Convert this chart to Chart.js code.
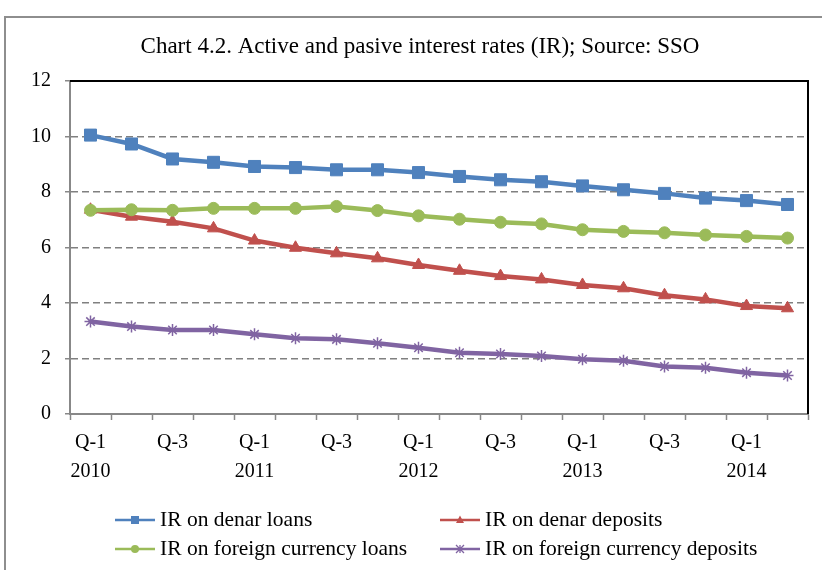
<!DOCTYPE html>
<html>
<head>
<meta charset="utf-8">
<script src="https://cdn.jsdelivr.net/npm/chart.js@4.4.1/dist/chart.umd.min.js"></script>
<style>
    html, body { margin: 0; padding: 0; background: #fff; overflow: hidden; }
    #wrap { position: relative; width: 822px; height: 570px; }
    #frame { position: absolute; left: 4px; top: 16px; width: 900px; height: 700px; border: 2px solid #8e8e8e; box-sizing: border-box; }
    canvas { position: absolute; left: 0; top: 0; }
</style>
</head>
<body>
<div id="wrap">
    <div id="frame"></div>
    <canvas id="rateChart" width="822" height="570"></canvas>
</div>
<script>
// Quarters 2010 Q1 .. 2014 Q2
const quarters = [
    '2010 Q1', '2010 Q2', '2010 Q3', '2010 Q4',
    '2011 Q1', '2011 Q2', '2011 Q3', '2011 Q4',
    '2012 Q1', '2012 Q2', '2012 Q3', '2012 Q4',
    '2013 Q1', '2013 Q2', '2013 Q3', '2013 Q4',
    '2014 Q1', '2014 Q2'
];
const tickLabels = [
    ['Q-1', '2010'], '', 'Q-3', '',
    ['Q-1', '2011'], '', 'Q-3', '',
    ['Q-1', '2012'], '', 'Q-3', '',
    ['Q-1', '2013'], '', 'Q-3', '',
    ['Q-1', '2014'], ''
];
const yTicks = [0, 2, 4, 6, 8, 10, 12];

const denarLoans = [10.05, 9.73, 9.19, 9.07, 8.92, 8.88, 8.80, 8.80, 8.70, 8.56, 8.44, 8.37, 8.22, 8.08, 7.95, 7.78, 7.69, 7.55];
const denarDeposits = [7.36, 7.11, 6.93, 6.69, 6.25, 5.99, 5.79, 5.61, 5.37, 5.16, 4.97, 4.85, 4.65, 4.53, 4.28, 4.13, 3.89, 3.81];
const fxLoans = [7.34, 7.36, 7.34, 7.41, 7.41, 7.41, 7.48, 7.33, 7.14, 7.02, 6.91, 6.85, 6.64, 6.58, 6.53, 6.45, 6.40, 6.34];
const fxDeposits = [3.33, 3.15, 3.03, 3.03, 2.87, 2.73, 2.69, 2.55, 2.39, 2.21, 2.16, 2.09, 1.97, 1.92, 1.71, 1.67, 1.49, 1.39];

const titleText = 'Chart 4.2. Active and pasive interest rates (IR); Source: SSO';
const FONT = '"Liberation Serif", "Times New Roman", serif';

// marker helper for the legend
function drawMarker(ctx, style, x, y, r, color) {
    ctx.save();
    ctx.fillStyle = color;
    ctx.strokeStyle = color;
    ctx.lineWidth = 1.3;
    ctx.beginPath();
    if (style === 'rect') {
        ctx.rect(x - r, y - r, 2 * r, 2 * r);
        ctx.fill();
    } else if (style === 'circle') {
        ctx.arc(x, y, r, 0, Math.PI * 2);
        ctx.fill();
    } else if (style === 'triangle') {
        ctx.moveTo(x, y - r * 1.1);
        ctx.lineTo(x + r, y + r * 0.75);
        ctx.lineTo(x - r, y + r * 0.75);
        ctx.closePath();
        ctx.fill();
    } else {
        ctx.moveTo(x - r, y - r); ctx.lineTo(x + r, y + r);
        ctx.moveTo(x - r, y + r); ctx.lineTo(x + r, y - r);
        ctx.moveTo(x, y - r); ctx.lineTo(x, y + r);
        ctx.stroke();
    }
    ctx.restore();
}

const decorPlugin = {
    id: 'decor',
    beforeDatasetsDraw(chart) {
        const { ctx, chartArea: a } = chart;
        ctx.save();
        ctx.strokeStyle = '#000';
        ctx.lineWidth = 2;
        ctx.beginPath();
        ctx.moveTo(a.left, a.top);
        ctx.lineTo(a.right, a.top);
        ctx.lineTo(a.right, a.bottom);
        ctx.stroke();
        ctx.restore();
    },
    afterDraw(chart) {
        const ctx = chart.ctx;
        ctx.save();
        // title
        ctx.fillStyle = '#000';
        ctx.font = '23px ' + FONT;
        ctx.textAlign = 'center';
        ctx.textBaseline = 'middle';
        ctx.fillText(titleText, 420, 47);

        // legend, 2 x 2
        const pos = [[115, 520], [440, 520], [115, 549], [440, 549]];
        ctx.font = '21.5px ' + FONT;
        ctx.textAlign = 'left';
        chart.data.datasets.forEach((ds, i) => {
            const [x, y] = pos[i];
            ctx.strokeStyle = ds.borderColor;
            ctx.lineWidth = 2.5;
            ctx.beginPath();
            ctx.moveTo(x, y);
            ctx.lineTo(x + 40, y);
            ctx.stroke();
            drawMarker(ctx, ds.pointStyle, x + 20, y, 4, ds.borderColor);
            ctx.fillStyle = '#000';
            ctx.fillText(ds.label, x + 45, y);
        });
        ctx.restore();
    }
};

const ctx = document.getElementById('rateChart');
new Chart(ctx, {
    type: 'line',
    data: {
        labels: quarters,
        datasets: [
            {
                label: 'IR on denar loans',
                data: denarLoans,
                borderColor: '#4F81BD',
                backgroundColor: '#4F81BD',
                pointStyle: 'rect',
                pointRadius: 8.5,
                order: 3
            },
            {
                label: 'IR on denar deposits',
                data: denarDeposits,
                borderColor: '#C0504D',
                backgroundColor: '#C0504D',
                pointStyle: 'triangle',
                pointRadius: 7,
                order: 2
            },
            {
                label: 'IR on foreign currency loans',
                data: fxLoans,
                borderColor: '#9BBB59',
                backgroundColor: '#9BBB59',
                pointStyle: 'circle',
                pointRadius: 6,
                order: 1
            },
            {
                label: 'IR on foreign currency deposits',
                data: fxDeposits,
                borderColor: '#8064A2',
                backgroundColor: '#8064A2',
                pointStyle: 'star',
                pointRadius: 6,
                pointBorderWidth: 1.5,
                order: 0
            }
        ]
    },
    options: {
        responsive: false,
        animation: false,
        layout: { padding: { top: 81, right: 14, left: 0, bottom: 0 } },
        elements: {
            line: { borderWidth: 4.5, tension: 0 },
            point: { borderWidth: 1 }
        },
        plugins: {
            legend: { display: false },
            title: { display: false },
            tooltip: { enabled: false }
        },
        scales: {
            x: {
                offset: true,
                grid: {
                    offset: true,
                    drawOnChartArea: false,
                    tickLength: 6,
                    tickColor: '#888',
                    tickWidth: 1.5
                },
                border: { color: '#888', width: 2 },
                ticks: {
                    autoSkip: false,
                    maxRotation: 0,
                    minRotation: 0,
                    padding: 8,
                    color: '#000',
                    font: { family: FONT, size: 20, lineHeight: 1.45 },
                    callback: (val, idx) => tickLabels[idx]
                },
                afterFit: (scale) => { scale.height = 156; }
            },
            y: {
                min: 0,
                max: 12,
                afterBuildTicks: (scale) => { scale.ticks = yTicks.map(v => ({ value: v })); },
                grid: {
                    color: (c) => (c.tick && (c.tick.value === 0 || c.tick.value === 12)) ? 'rgba(0,0,0,0)' : '#808080',
                    lineWidth: 1.5,
                    tickLength: 5,
                    tickColor: '#888',
                    tickWidth: 1.5
                },
                border: { color: '#888', width: 2, dash: [7, 4] },
                ticks: {
                    padding: 14,
                    color: '#000',
                    font: { family: FONT, size: 20 }
                },
                afterFit: (scale) => { scale.width = 70; }
            }
        }
    },
    plugins: [decorPlugin]
});
</script>
</body>
</html>
